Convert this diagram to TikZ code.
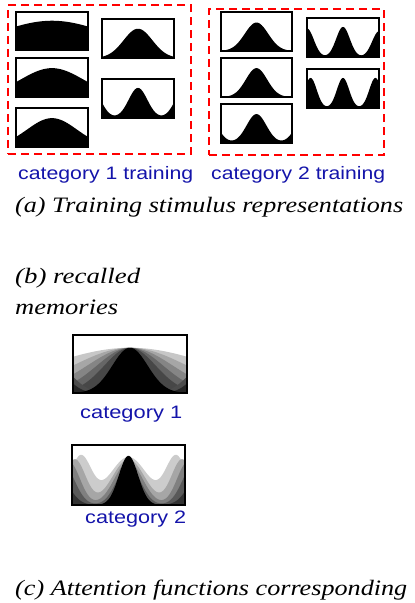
\documentclass[tikz,border=0pt]{standalone}
\usepackage{fontspec}
\usepackage{graphicx}
\newfontfamily\labsans{Liberation Sans}
\newfontfamily\capserif{Liberation Serif}
\definecolor{labblue}{RGB}{20,20,170}
\tikzset{
  frame/.style={draw=black, line width=1.6pt, inner sep=0pt, outer sep=0pt, fill=none},
  groupbox/.style={draw=red, line width=2pt, dash pattern=on 8pt off 5pt, inner sep=0pt, fill=none},
  catlabel/.style={anchor=base west, inner sep=0pt, text=labblue, font=\labsans\fontsize{18}{20}\selectfont},
  captext/.style={anchor=base west, inner sep=0pt, text=black, font=\capserif\itshape\fontsize{22}{24}\selectfont},
}
% fill the area under a profile (normalised u in [-1,1], value in [0,1])
\newcommand\shapefill[6]{%
  \fill[#6] plot[domain=-1:1, samples=121, variable=\x]
    ({#1+(\x+1)*(#3-#1)/2},{#4-(#4-#2)*(#5)}) -- (#3,#4) -- (#1,#4) -- cycle;}
\newcommand\stimulus[6]{%
  \shapefill{#2}{#3}{#4}{#5}{#6}{black}
  \node[frame, minimum width={(#4-#2)*1pt}, minimum height={(#5-#3)*1pt}] (#1) at ({(#2+#4)/2},{(#3+#5)/2}) {};}
\newcommand\fitto[2]{\resizebox{#1}{\height}{#2}}
% category 1 profiles
\def\cA{0.77*g(\x,0,1.5)}
\def\cB{0.74*g(\x,0,0.87)}
\def\cC{0.74*g(\x,0,0.69)}
\def\cD{0.75*g(\x,0,0.40)}
\def\cE{0.77*(g(\x,0,0.26)+g(\x,-1.3,0.26)+g(\x,1.3,0.26))}
% category 2 profiles
\def\dA{0.73*g(\x,0,0.33)}
\def\dB{0.74*g(\x,0,0.30)}
\def\dC{0.74*(g(\x,0,0.28)+g(\x,-1.4,0.28)+g(\x,1.4,0.28))}
\def\dD{(0.77*g(\x,0,0.19)+0.73*g(\x,-1,0.19)+0.66*g(\x,1,0.19))}
\def\dE{0.77*(g(\x,0,0.17)+g(\x,-0.9,0.17)+g(\x,0.9,0.17))}
% recalled memory layers, category 1 (widest/lightest first)
\def\rA{0.78*g(\x,0,1.5)}
\def\rB{0.78*g(\x,0,1.0)}
\def\rC{0.78*g(\x,0,0.75)}
\def\rD{0.78*g(\x,0,0.58)}
\def\rE{0.78*g(\x,0,0.45)}
\def\rF{0.46*(g(\x,-1.3,0.3)+g(\x,1.3,0.3))}
\def\rG{0.36*(g(\x,-1.3,0.24)+g(\x,1.3,0.24))}
\def\rH{0.78*g(\x,0,0.31)}
% recalled memory layers, category 2
\def\sA{0.8*(g(\x,0,0.34)+g(\x,-0.85,0.19)+g(\x,0.85,0.19))}
\def\sB{0.76*(g(\x,0,0.29)+g(\x,-0.95,0.19)+g(\x,0.95,0.19))}
\def\sC{0.72*(g(\x,0,0.25)+g(\x,-1.05,0.19)+g(\x,1.05,0.19))}
\def\sD{0.66*(g(\x,0,0.21)+g(\x,-1.15,0.2)+g(\x,1.15,0.2))}
\def\sE{0.58*(g(\x,-1.3,0.22)+g(\x,1.3,0.22))}
\def\sF{0.82*g(\x,0,0.17)}
\begin{document}
\begin{tikzpicture}[x=1pt, y=-1pt,
  declare function={g(\u,\c,\s)=exp(max(-9,-((\u-\c)*(\u-\c))/(2*\s*\s)));}]
\useasboundingbox (0,0) rectangle (415,603);

% (a) training stimuli, category 1
\node[groupbox, minimum width=183pt, minimum height=149pt] (grp1) at (99.5,79.5) {};
\stimulus{c1a}{16}{12}{88}{50}{\cA}
\stimulus{c1b}{16}{58}{88}{97}{\cB}
\stimulus{c1c}{16}{108}{88}{147}{\cC}
\stimulus{c1d}{102}{19}{174}{58}{\cD}
\stimulus{c1e}{102}{79}{174}{118}{\cE}

% (a) training stimuli, category 2
\node[groupbox, minimum width=175pt, minimum height=146pt] (grp2) at (296.5,82) {};
\stimulus{c2a}{221}{12}{292}{51}{\dA}
\stimulus{c2b}{221}{58}{292}{97}{\dB}
\stimulus{c2c}{221}{104}{292}{143}{\dC}
\stimulus{c2d}{307}{18}{379}{57}{\dD}
\stimulus{c2e}{307}{69}{379}{108}{\dE}

\node[catlabel] (lab1) at (18,179) {\fitto{175pt}{category 1 training}};
\node[catlabel] (lab2) at (211,179) {\fitto{174pt}{category 2 training}};
\node[captext] (capa) at (15,212) {\fitto{388pt}{(a) Training stimulus representations}};

% (b) recalled memories
\node[captext] (capb1) at (15,283) {\fitto{125pt}{(b) recalled}};
\node[captext] (capb2) at (15,314) {\fitto{103pt}{memories}};

\foreach \p/\o in {\rA/black!22,\rB/black!35,\rC/black!48,\rD/black!60,\rE/black!72,\rF/black!70,\rG/black!85,\rH/black}{\shapefill{73}{335}{187}{393}{\p}{\o}}
\node[frame, minimum width=114pt, minimum height=58pt] (rec1) at (130,364) {};
\node[catlabel] (rlab1) at (80,418) {\fitto{102pt}{category 1}};

\foreach \p/\o in {\sA/black!20,\sB/black!35,\sC/black!50,\sD/black!65,\sE/black!80,\sF/black}{\shapefill{72}{445}{185}{505}{\p}{\o}}
\node[frame, minimum width=113pt, minimum height=60pt] (rec2) at (128.5,475) {};
\node[catlabel] (rlab2) at (85,523) {\fitto{101pt}{category 2}};

% (c)
\node[captext] (capc) at (15,595) {\fitto{392pt}{(c) Attention functions corresponding}};
\end{tikzpicture}
\end{document}
